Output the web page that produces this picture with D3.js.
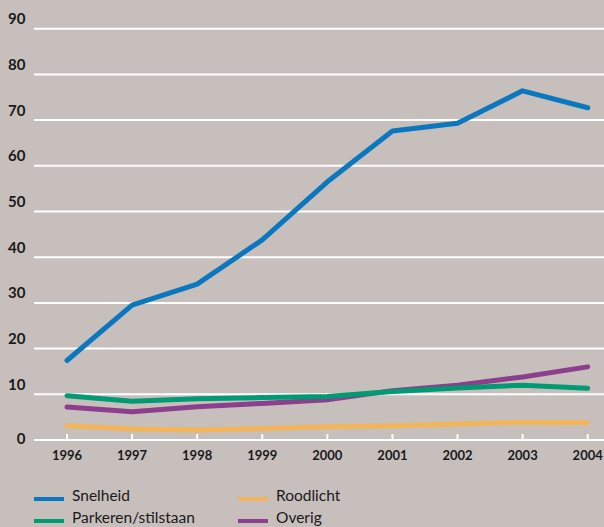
<!DOCTYPE html>
<html><head><meta charset="utf-8">
<script src="https://cdn.jsdelivr.net/npm/d3@7/dist/d3.min.js"></script>
<style>html,body{margin:0;padding:0;background:#c7bfbc;}svg{display:block;}</style>
</head><body>
<svg id="chart" width="604" height="527"></svg>
<script>
const years = [1996,1997,1998,1999,2000,2001,2002,2003,2004];
const yTicks = [0,10,20,30,40,50,60,70,80,90];
const seriesNames = ["Snelheid","Parkeren/stilstaan","Roodlicht","Overig"];
const snelheid = [17.4,29.5,34.1,43.8,56.5,67.6,69.3,76.4,72.7];
const parkeren = [9.7,8.5,9.0,9.3,9.5,10.6,11.4,12.0,11.3];
const roodlicht = [3.1,2.4,2.2,2.5,2.9,3.1,3.5,3.9,3.8];
const overig = [7.2,6.2,7.3,8.0,8.8,10.8,12.0,13.8,16.0];
const colors = ["#0a77bf","#009b72","#f3b55a","#8c3f8d"];

const svg = d3.select("#chart");
svg.append("rect").attr("width",604).attr("height",527).attr("fill","#c7bfbc");
const x = d3.scalePoint().domain(years).range([67,587.7]);
const y = d3.scaleLinear().domain([0,90]).range([440,28.7]);
const font = "Lato, 'Open Sans', sans-serif";

// gridlines
svg.append("g").selectAll("line").data(yTicks).join("line")
  .attr("x1",34).attr("x2",604)
  .attr("y1",d=>y(d)).attr("y2",d=>y(d))
  .attr("stroke","#fff").attr("stroke-width",2);

// y labels
svg.append("g").selectAll("text").data(yTicks).join("text")
  .attr("x",25.5)
  .attr("y",d=> d===0 ? y(d)+4 : y(d)-4.5)
  .attr("text-anchor","end")
  .attr("font-family",font).attr("font-weight","bold").attr("font-size",15)
  .attr("fill","#1a1a1a")
  .text(d=>d);

// x ticks (upward) and labels
const xa = svg.append("g");
xa.selectAll("line").data(years).join("line")
  .attr("x1",d=>x(d)).attr("x2",d=>x(d))
  .attr("y1",y(0)).attr("y2",y(0)-6)
  .attr("stroke","#fff").attr("stroke-width",2);
xa.selectAll("text").data(years).join("text")
  .attr("x",d=>x(d)).attr("y",460)
  .attr("text-anchor","middle")
  .attr("font-family",font).attr("font-weight","bold").attr("font-size",13)
  .attr("fill","#1a1a1a")
  .text(d=>d);

// lines
const allSeries = [snelheid,parkeren,roodlicht,overig];
const drawOrder = [2,3,1,0];
const line = d3.line().x((d,i)=>x(years[i])).y(d=>y(d));
drawOrder.forEach(k=>{
  svg.append("path").datum(allSeries[k])
    .attr("d",line).attr("fill","none")
    .attr("stroke",colors[k]).attr("stroke-width",5)
    .attr("stroke-linejoin","round").attr("stroke-linecap","round");
});

// legend
const legPos = [[34,499],[34,521],[238,499],[238,521]];
seriesNames.forEach((n,k)=>{
  const [lx,ly] = legPos[k];
  svg.append("line").attr("x1",lx).attr("x2",lx+30).attr("y1",ly).attr("y2",ly)
    .attr("stroke",colors[k]).attr("stroke-width",4);
  svg.append("text").attr("x",lx+38).attr("y",ly+2)
    .attr("font-family",font).attr("font-size",15.5).attr("fill","#1a1a1a")
    .text(n);
});
</script>
</body></html>
